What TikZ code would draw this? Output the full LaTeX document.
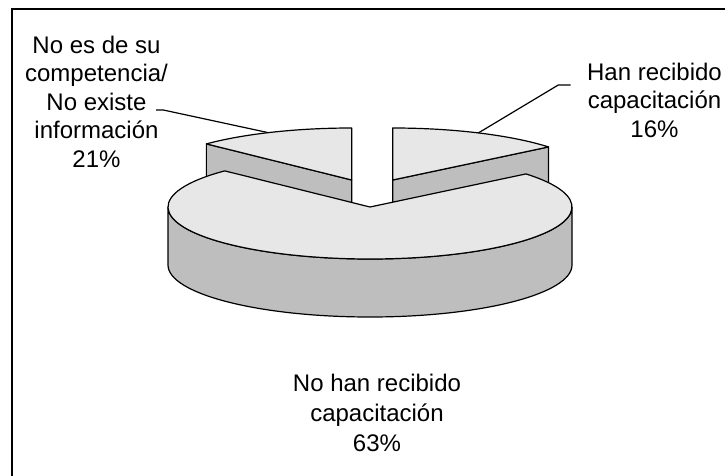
\documentclass[tikz,border=0pt]{standalone}
\usepackage{fontspec}
\setmainfont{Liberation Sans}
\definecolor{pietop}{RGB}{231,231,231}
\definecolor{pieside}{RGB}{190,190,190}
\begin{document}
\begin{tikzpicture}[x=1pt,y=1pt,
        topface/.style={fill=pietop,draw=black,line width=1.2pt,line join=round},
        sideface/.style={fill=pieside,draw=black,line width=1.2pt,line join=round},
        leader/.style={draw=black,line width=1.2pt},
        lbl/.style={align=center,inner sep=0pt,font=\fontsize{24}{28.5}\selectfont}]
        \useasboundingbox (0,-476) rectangle (725,0);
        \draw[line width=2.2pt] (12,-476)--(12,-9)--(725,-9);
        % slice centres
        \coordinate (aL) at (351.7,-180);
        \coordinate (aR) at (392.7,-180);
        \coordinate (aM) at (370,-207);
        % left slice, 21%
        \filldraw[sideface] (aL)--++(136:202 and 52)--++(0,-58)--(351.7,-238)--cycle;
        \filldraw[topface] (aL)--++(136:202 and 52) arc[start angle=136,end angle=90,x radius=202,y radius=52]--cycle;
        % right slice, 16%
        \filldraw[sideface] (aR)--++(39.5:202 and 52)--++(0,-58)--(392.7,-238)--cycle;
        \filldraw[topface] (aR)--++(39.5:202 and 52) arc[start angle=39.5,end angle=90,x radius=202,y radius=52]--cycle;
        % big slice, 63%
        \filldraw[sideface] (168,-207) arc[start angle=180,end angle=360,x radius=202,y radius=52]--++(0,-58) arc[start angle=360,end angle=180,x radius=202,y radius=52]--cycle;
        \filldraw[topface] (aM)--++(136:202 and 52) arc[start angle=136,end angle=399.5,x radius=202,y radius=52]--cycle;
        % labels
        \node[lbl] (lblL) at (96.5,-101.5) {No es de su\\competencia/\\No existe\\información\\21\%};
        \node[lbl] (lblR) at (654.5,-100) {Han recibido\\capacitación\\16\%};
        \node[lbl] (lblM) at (377,-413) {No han recibido\\[1.2pt]capacitación\\[1.2pt]63\%};
        % leader lines
        \coordinate (ldL) at (156,-110);
        \coordinate (ldR) at (570.7,-85);
        \path (aL) ++(114.4:202 and 52) coordinate (tipL);
        \path (aR) ++(64.9:202 and 52) coordinate (tipR);
        \draw[leader] (ldL)--++(7.3,0)--(tipL);
        \draw[leader] (ldR)--++(-12.4,0)--(tipR);
    \end{tikzpicture}
\end{document}
